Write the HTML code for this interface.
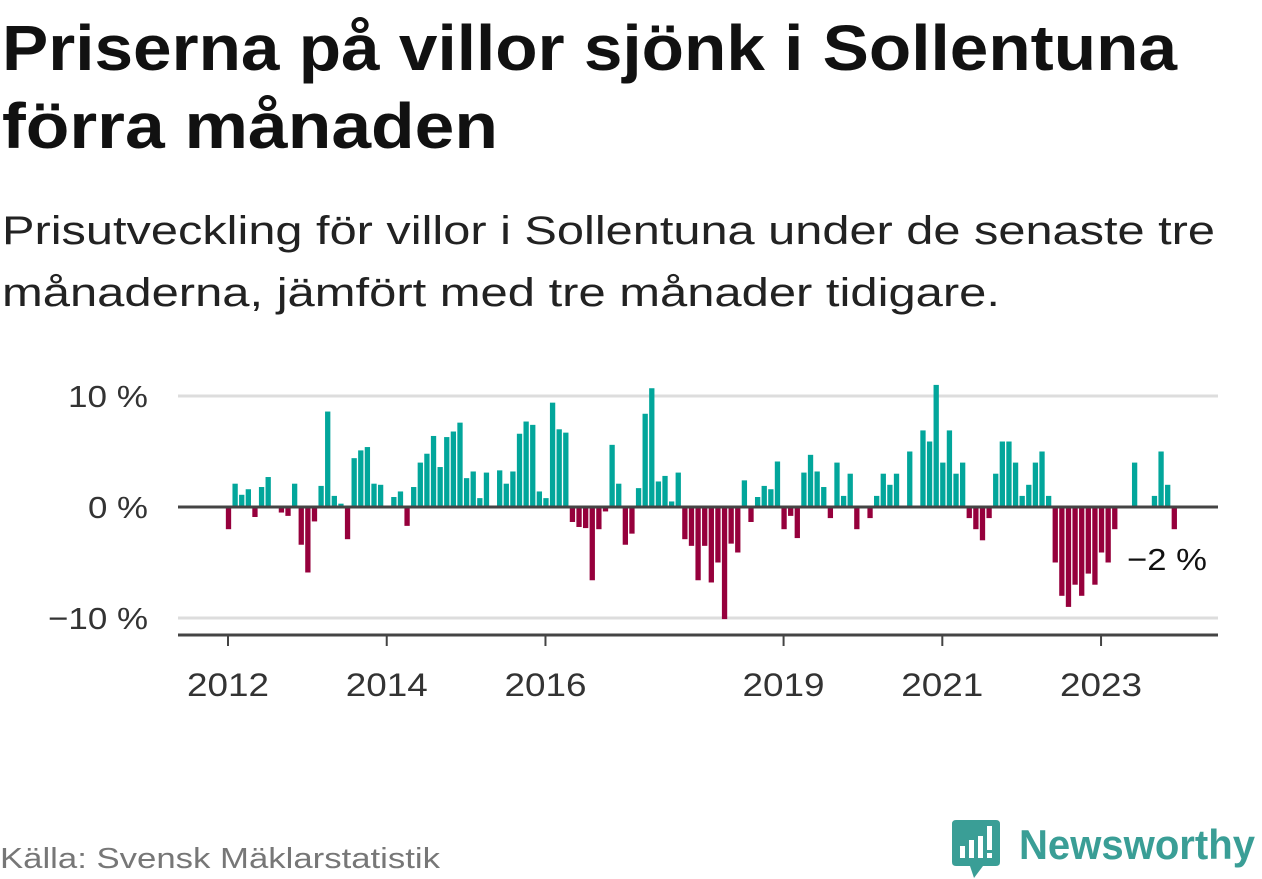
<!DOCTYPE html>
<html><head><meta charset="utf-8"><style>
body{margin:0;background:#fff;width:1262px;height:879px;overflow:hidden}
svg{display:block;font-family:"Liberation Sans","DejaVu Sans",sans-serif}
</style></head><body>
<svg id="chart" width="1262" height="879" viewBox="0 0 1262 879">
<text x="2" y="70" font-size="64" font-weight="bold" fill="#111" textLength="1175" lengthAdjust="spacingAndGlyphs">Priserna på villor sjönk i Sollentuna</text>
<text x="2" y="148" font-size="64" font-weight="bold" fill="#111" textLength="496" lengthAdjust="spacingAndGlyphs">förra månaden</text>
<text x="2" y="244" font-size="40" fill="#222" textLength="1213" lengthAdjust="spacingAndGlyphs">Prisutveckling för villor i Sollentuna under de senaste tre</text>
<text x="2" y="306" font-size="40" fill="#222" textLength="998" lengthAdjust="spacingAndGlyphs">månaderna, jämfört med tre månader tidigare.</text>
<g id="grid"></g>
<g id="bars"></g>
<g id="axes"></g>
<text x="1127" y="570" font-size="31" fill="#111" textLength="80" lengthAdjust="spacingAndGlyphs">−2 %</text>
<text x="0" y="868" font-size="29" fill="#777" textLength="440" lengthAdjust="spacingAndGlyphs">Källa: Svensk Mäklarstatistik</text>
<g>
<path d="M956 820 H996 Q1000 820 1000 824 V862 Q1000 866 996 866 H983 L974 878 L970 866 H956 Q952 866 952 862 V824 Q952 820 956 820Z" fill="#3a9e96"/>
<rect x="960" y="846" width="5" height="12" fill="#fff"/>
<rect x="969" y="840" width="5" height="18" fill="#fff"/>
<rect x="978" y="836" width="5" height="22" fill="#fff"/>
<rect x="987" y="826" width="5" height="24" fill="#fff"/>
<rect x="987" y="853" width="5" height="5" fill="#fff"/>
<text x="1019" y="859" font-size="42" font-weight="bold" fill="#3a9e96" textLength="236" lengthAdjust="spacingAndGlyphs">Newsworthy</text>
</g>
</svg>
<script>
const values=[-2.0,2.1,1.1,1.6,-0.9,1.8,2.7,0,-0.5,-0.8,2.1,-3.4,
-5.9,-1.3,1.9,8.6,1.0,0.3,-2.9,4.4,5.1,5.4,2.1,2.0,
0,0.9,1.4,-1.7,1.8,4.0,4.8,6.4,3.6,6.3,6.8,7.6,
2.6,3.2,0.8,3.1,0,3.3,2.1,3.2,6.6,7.7,7.4,1.4,
0.8,9.4,7.0,6.7,-1.35,-1.8,-1.9,-6.6,-2.0,-0.4,5.6,2.1,
-3.4,-2.4,1.7,8.4,10.7,2.3,2.8,0.5,3.1,-2.9,-3.5,-6.6,
-3.5,-6.8,-5.0,-10.1,-3.3,-4.1,2.4,-1.35,0.9,1.9,1.6,4.1,
-2.0,-0.8,-2.8,3.1,4.7,3.2,1.8,-1.0,4.0,1.0,3.0,-2.0,
0,-1.0,1.0,3.0,2.0,3.0,0,5.0,0,6.9,5.9,11.0,
4.0,6.9,3.0,4.0,-1.0,-2.0,-3.0,-1.0,3.0,5.9,5.9,4.0,
1.0,2.0,4.0,5.0,1.0,-5.0,-8.0,-9.0,-7.0,-8.0,-6.0,-7.0,
-4.1,-5.0,-2.0,0,0,4.0,0,0,1.0,5.0,2.0,-2.0];
const startYear=2012;
const yTicks=[10,0,-10];
const yTickLabels=["10 %","0 %","−10 %"];
const xTickYears=[2012,2014,2016,2019,2021,2023];
const NS="http://www.w3.org/2000/svg";
const x0=228.5,monthW=6.614,barW=5.3;
function xScale(i){return x0+monthW*i;}
function yScale(v){return 507-v*11.1;}
function mk(tag,attrs,parent){const e=document.createElementNS(NS,tag);for(const k in attrs)e.setAttribute(k,attrs[k]);parent.appendChild(e);return e;}
const grid=document.getElementById('grid'),bars=document.getElementById('bars'),axes=document.getElementById('axes');
yTicks.forEach((t,k)=>{
 if(t!==0){const l=mk('line',{x1:178,x2:1218,y1:yScale(t),y2:yScale(t),stroke:'#ddd','stroke-width':3},grid);
 
 }
 const tx=mk('text',{x:148,y:yScale(t)+11,'font-size':31,fill:'#333','text-anchor':'end',textLength:yTickLabels[k].length*20,lengthAdjust:'spacingAndGlyphs'},axes);
 tx.textContent=yTickLabels[k];
 
 
});
values.forEach((v,i)=>{
 if(v===0)return;
 const y=v>0?yScale(v):yScale(0);
 const r=mk('rect',{x:xScale(i)-barW/2,y:y,width:barW,height:Math.abs(yScale(v)-yScale(0)),fill:v>0?'#02a69b':'#96003c'},bars);
 
 
});
const zl=mk('line',{x1:178,x2:1218,y1:yScale(0),y2:yScale(0),stroke:'#444','stroke-width':3},axes);


const xa=mk('line',{x1:178,x2:1218,y1:635,y2:635,stroke:'#444','stroke-width':3},axes);


xTickYears.forEach(yr=>{
 const xp=xScale((yr-startYear)*12)-0.5;
 const tk=mk('line',{x1:xp,x2:xp,y1:635,y2:646,stroke:'#444','stroke-width':2},axes);
 
 
 const tl=mk('text',{x:xp,y:696,'font-size':32,fill:'#333','text-anchor':'middle',textLength:82,lengthAdjust:'spacingAndGlyphs'},axes);
 tl.textContent=yr;
 
 
});
</script>
</body></html>
